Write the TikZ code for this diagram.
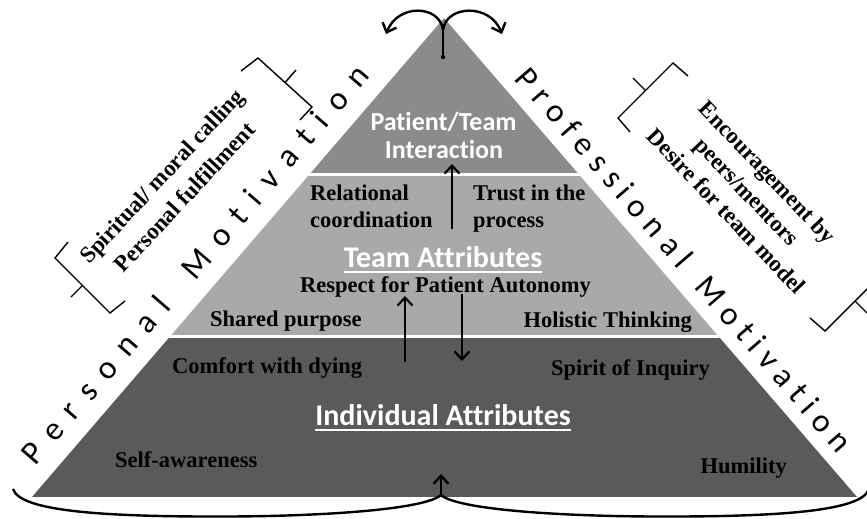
\documentclass[tikz,border=0pt]{standalone}
\usepackage{fontspec}
\setmainfont{Liberation Serif}
\newfontfamily\calib[Ligatures=NoCommon]{Carlito}
\usetikzlibrary{arrows.meta,decorations.text}
\definecolor{topgray}{HTML}{8B8B8B}
\definecolor{midgray}{HTML}{A9A9A9}
\definecolor{botgray}{HTML}{5A5A5A}
\begin{document}
\begin{tikzpicture}[x=1pt,y=-1pt,
  item/.style={font=\fontsize{22.5}{27}\selectfont\bfseries, text=black, inner sep=0pt},
  headA/.style={font=\calib\bfseries\fontsize{26}{30}\selectfont, text=white, inner sep=0pt},
  headB/.style={font=\calib\bfseries\fontsize{30}{33}\selectfont, text=white, inner sep=0pt},
  uline/.style={white, line width=2pt},
  sidetext/.style={font=\fontsize{23}{31}\selectfont\bfseries, align=center, inner sep=0pt},
  arr/.style={line width=2.2pt, -{Straight Barb[length=8pt,width=15pt]}},
  curvy/.style={line width=2.4pt},
  curvyarr/.style={line width=2.4pt, -{Straight Barb[length=8pt,width=15pt]}},
  brk/.style={line width=1.4pt, line join=miter},
]
\useasboundingbox (0,0) rectangle (867,519);
\fill[white] (0,0) rectangle (867,519);

% pyramid
\coordinate (A) at (444,18);
\coordinate (BL) at (32,497);
\coordinate (BR) at (857,497);
\begin{scope}
  \clip (A) -- (BL) -- (BR) -- cycle;
  \fill[botgray] (0,336) rectangle (867,497);
  \fill[midgray] (0,174) rectangle (867,336);
  \fill[topgray] (0,0) rectangle (867,174);
  \draw[white, line width=3pt] (0,174.5) -- (867,174.5);
  \draw[white, line width=3pt] (0,336) -- (867,336);
\end{scope}

% top layer
\node[headA, anchor=base] (pt1) at (443.5,130) {Patient/Team};
\node[headA, anchor=base] (pt2) at (444,158) {Interaction};

% middle layer
\node[item, anchor=base west] (rel1) at (310,200) {Relational};
\node[item, anchor=base west] (rel2) at (310,227) {coordination};
\node[item, anchor=base west] (tr1) at (473,200) {Trust in the};
\node[item, anchor=base west] (tr2) at (473,227) {process};
\node[headB, anchor=base] (ta) at (443,267) {Team Attributes};
\draw[uline] ([yshift=-4.5pt]ta.base west) -- ([yshift=-4.5pt]ta.base east);
\node[item, anchor=base] (rpa) at (445.5,292) {Respect for Patient Autonomy};
\node[item, anchor=base west] (sp) at (210,326) {Shared purpose};
\node[item, anchor=base east] (ht) at (692,327) {Holistic Thinking};

% bottom layer
\node[item, anchor=base west] (cwd) at (172,373) {Comfort with dying};
\node[item, anchor=base east] (soi) at (710,375) {Spirit of Inquiry};
\node[headB, anchor=base] (ia) at (443,425) {Individual Attributes};
\draw[uline] ([yshift=-5pt]ia.base west) -- ([yshift=-5pt]ia.base east);
\node[item, anchor=base west] (sa) at (115,467) {Self-awareness};
\node[item, anchor=base east] (hu) at (787,473) {Humility};

% vertical arrows
\coordinate (a1s) at (452,229);
\coordinate (a1e) at (452,164);
\draw[arr] (a1s) -- (a1e);
\coordinate (a2s) at (405,362);
\coordinate (a2e) at (405,296);
\draw[arr] (a2s) -- (a2e);
\coordinate (a3s) at (462,294);
\coordinate (a3e) at (462,361);
\draw[arr] (a3s) -- (a3e);

% top split arrow
\coordinate (stemB) at (443,57);
\coordinate (split) at (443,30);
\coordinate (tipL) at (386,34);
\coordinate (tipR) at (502,34);
\draw[curvy] (stemB) -- (split);
\fill (stemB) circle (2.2);
\draw[curvyarr] (split) .. controls (440,5) and (398,3) .. (tipL);
\draw[curvyarr] (split) .. controls (446,5) and (490,3) .. (tipR);

% bottom brace arrow
\coordinate (bc) at (441,495);
\coordinate (btip) at (441,474);
\coordinate (bl) at (13,489);
\coordinate (br) at (869,489);
\draw[curvyarr] (bc) -- (btip);
\draw[curvy] (bc) .. controls (425,509) and (330,516) .. (230,516.5) .. controls (100,517) and (20,511) .. (bl);
\draw[curvy] (bc) .. controls (457,509) and (552,516) .. (652,516.5) .. controls (782,517) and (862,511) .. (br);

% side motivation texts
\path[decorate, decoration={text along path,
  text={|\calib\fontsize{33}{36}\selectfont|Personal Motivation},
  text align={fit to path}}] (35.4,466.9) -- (371.1,76.6);
\path[decorate, decoration={text along path,
  text={|\calib\fontsize{33}{36}\selectfont|Professional Motivation},
  text align={fit to path}}] (513.9,79.1) -- (837.8,454.6);

% left side block with brackets
\node[sidetext, rotate=47] (lt) at (173,186.5) {Spiritual/ moral calling\\Personal fulfillment};
\draw[brk] (241,71) -- (258,58) -- (312,107) -- (300,120);
\draw[brk] (285,82.5) -- (296,70);
\draw[brk] (68,242) -- (55,258) -- (110,313) -- (125,301);
\draw[brk] (82.5,285.5) -- (71,297);

% right side block with brackets
\node[sidetext, rotate=-46.5, font=\fontsize{23}{28.5}\selectfont\bfseries] (rt) at (747,191.5) {Encouragement by\\peers/mentors\\Desire for team model};
\draw[brk] (688,76) -- (673,63) -- (618,118) -- (630,132);
\draw[brk] (645.5,90.5) -- (633,78);
\draw[brk] (810,318) -- (825,331) -- (885,271) -- (870,258);
\draw[brk] (855,301) -- (867,313);
\end{tikzpicture}
\end{document}
